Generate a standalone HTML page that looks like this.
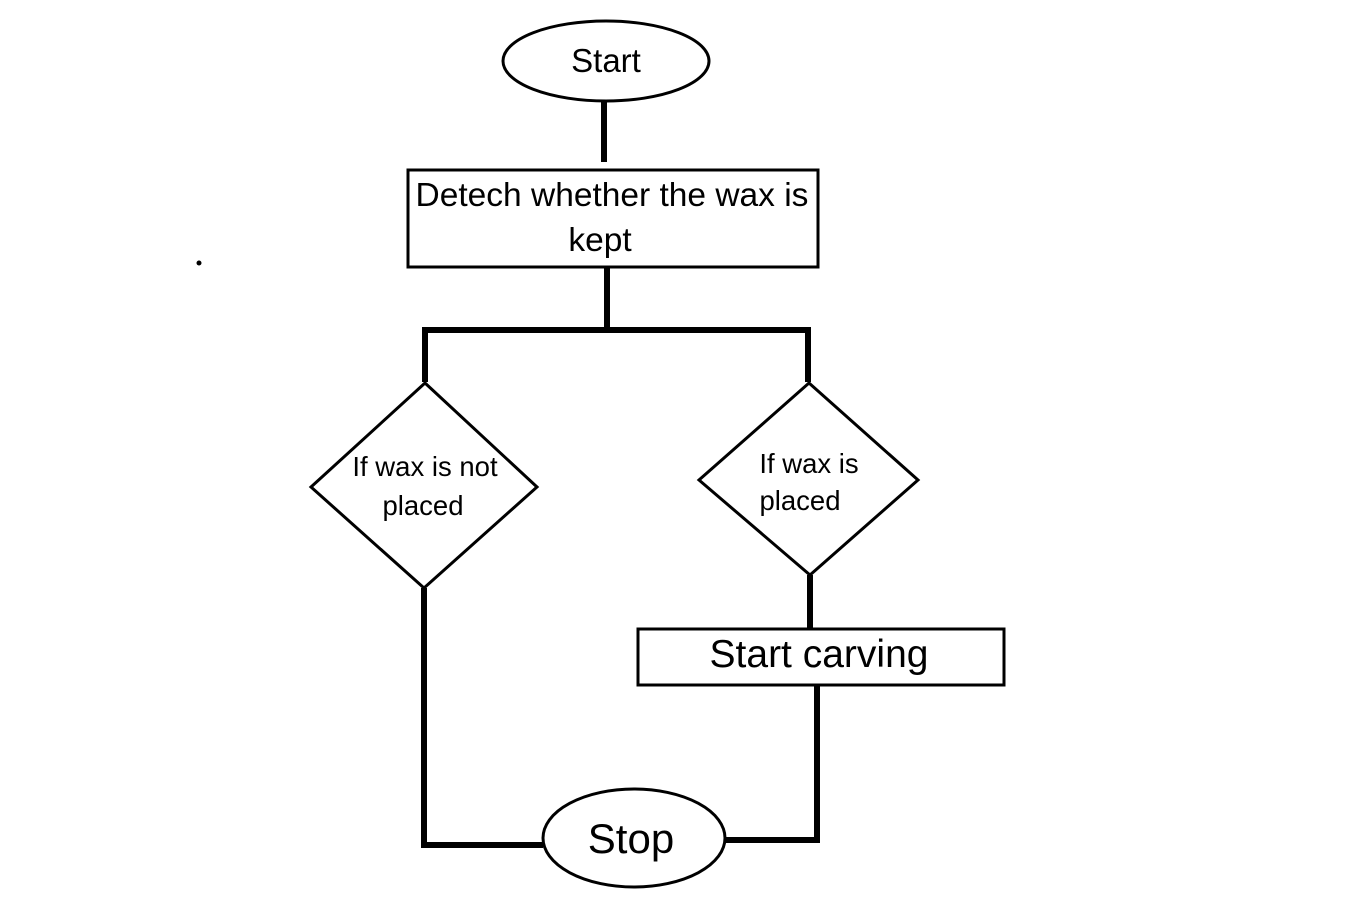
<!DOCTYPE html>
<html><head><meta charset="utf-8"><style>
html,body{margin:0;padding:0;background:#fff;}
svg{display:block;}
text{font-family:"Liberation Sans","DejaVu Sans",sans-serif;fill:#000;}
</style></head><body>
<svg width="1354" height="903" viewBox="0 0 1354 903" xmlns="http://www.w3.org/2000/svg">
<g fill="none" stroke="#000">
<ellipse cx="606" cy="61" rx="103" ry="40" stroke-width="3"/>
<line x1="604" y1="101" x2="604" y2="162" stroke-width="6"/>
<rect x="408" y="170" width="410" height="97" stroke-width="3"/>
<line x1="607" y1="267" x2="607" y2="330" stroke-width="6"/>
<line x1="422" y1="330" x2="811" y2="330" stroke-width="6"/>
<line x1="425" y1="330" x2="425" y2="382" stroke-width="6"/>
<line x1="808" y1="330" x2="808" y2="382" stroke-width="6"/>
<polygon points="425,383 537,487 424,588 311,487" stroke-width="3"/>
<polygon points="809,383 918,480 810,575 699,480" stroke-width="3"/>
<line x1="810" y1="575" x2="810" y2="628" stroke-width="6"/>
<rect x="638" y="629" width="366" height="56" stroke-width="3"/>
<polyline points="817,685 817,840 726,840" stroke-width="6"/>
<polyline points="424,588 424,845 543,845" stroke-width="6"/>
<ellipse cx="634" cy="838" rx="91" ry="49" stroke-width="3"/>
</g>
<circle cx="199" cy="263" r="2.5" fill="#000"/>
<text x="606" y="72" font-size="33" text-anchor="middle">Start</text>
<text x="612" y="206" font-size="33.5" text-anchor="middle">Detech whether the wax is</text>
<text x="600" y="251" font-size="33.5" text-anchor="middle">kept</text>
<text x="425" y="476" font-size="27.5" text-anchor="middle">If wax is not</text>
<text x="423" y="515" font-size="27.5" text-anchor="middle">placed</text>
<text x="809" y="473" font-size="27.5" text-anchor="middle">If wax is</text>
<text x="800" y="510" font-size="27.5" text-anchor="middle">placed</text>
<text x="819" y="667" font-size="39" text-anchor="middle">Start carving</text>
<text x="631" y="853" font-size="42" text-anchor="middle">Stop</text>
</svg>
</body></html>
